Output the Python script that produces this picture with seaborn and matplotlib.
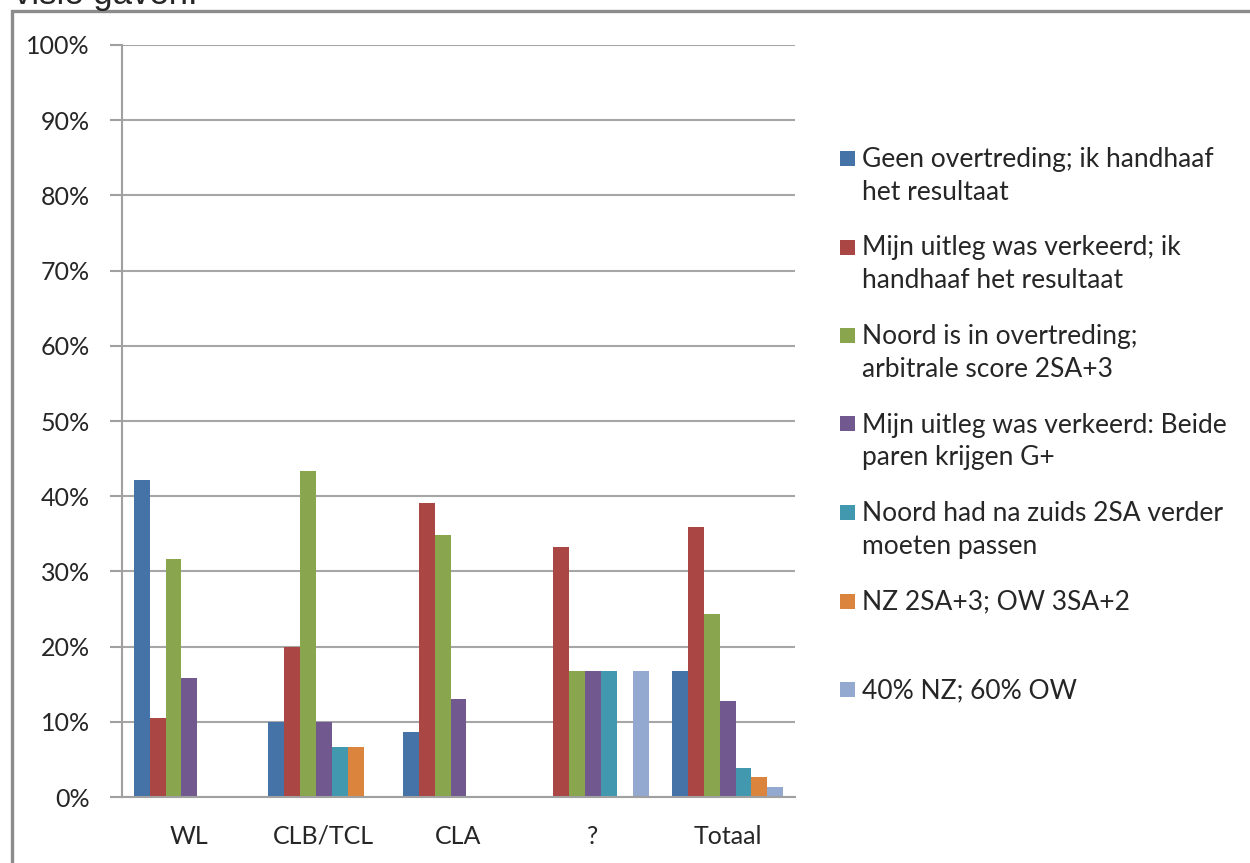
import numpy as np
import pandas as pd
import matplotlib
matplotlib.use("Agg")
import matplotlib.pyplot as plt
import seaborn as sns
from matplotlib.patches import Rectangle
from matplotlib.ticker import FixedLocator, PercentFormatter

categorieen = ["WL", "CLB/TCL", "CLA", "?", "Totaal"]
reeksen = ["Geen overtreding; ik handhaaf\nhet resultaat",
           "Mijn uitleg was verkeerd; ik\nhandhaaf het resultaat",
           "Noord is in overtreding;\narbitrale score 2SA+3",
           "Mijn uitleg was verkeerd: Beide\nparen krijgen G+",
           "Noord had na zuids 2SA verder\nmoeten passen",
           "NZ 2SA+3; OW 3SA+2",
           "40% NZ; 60% OW"]
geen_overtreding = [42.1, 10.0, 8.7, 0.0, 16.7]
uitleg_verkeerd = [10.5, 20.0, 39.1, 33.3, 35.9]
noord_overtreding = [31.6, 43.3, 34.8, 16.7, 24.4]
beide_g_plus = [15.8, 10.0, 13.0, 16.7, 12.8]
verder_passen = [0.0, 6.7, 0.0, 16.7, 3.8]
nz_ow = [0.0, 6.7, 0.0, 0.0, 2.6]
veertig_zestig = [0.0, 0.0, 0.0, 16.7, 1.3]
kleuren = ["#4572A7", "#AA4643", "#89A54E", "#71588F", "#4198AF", "#DB843D", "#93A9CF"]

waarden = [geen_overtreding, uitleg_verkeerd, noord_overtreding, beide_g_plus,
           verder_passen, nz_ow, veertig_zestig]
df = pd.DataFrame([(c, r, v[i]) for r, v in zip(reeksen, waarden)
                   for i, c in enumerate(categorieen)],
                  columns=["categorie", "reeks", "pct"])

sns.set_style("white")
plt.rcParams["font.family"] = ["Lato", "DejaVu Sans"]

fig = plt.figure(figsize=(12.5, 8.63), dpi=100)
ax = fig.add_axes([122 / 1250, 1 - 797 / 863, (795 - 122) / 1250, (797 - 45) / 863])

sns.barplot(data=df, x="categorie", y="pct", hue="reeks", order=categorieen,
            hue_order=reeksen, palette=kleuren, saturation=1, width=0.824, gap=0,
            linewidth=0, legend=False, ax=ax)

ax.set_xlim(-0.5, 4.5)
ax.set_ylim(0, 100)
ax.set_yticks(np.arange(0, 101, 10))
ax.yaxis.set_major_formatter(PercentFormatter(decimals=0))
ax.yaxis.grid(True, color="#A6A6A6", linewidth=1.5)
ax.set_axisbelow(True)
ax.set_xlabel("")
ax.set_ylabel("")
for s in ["top", "right"]:
    ax.spines[s].set_visible(False)
for s in ["left", "bottom"]:
    ax.spines[s].set_color("#A0A0A0")
    ax.spines[s].set_linewidth(1.5)
ax.xaxis.set_minor_locator(FixedLocator(np.arange(-0.5, 5, 1)))
ax.tick_params(axis="x", which="major", length=0, pad=20, labelsize=18)
ax.tick_params(axis="x", which="minor", length=9, width=1.5, color="#A0A0A0", direction="out")
ax.tick_params(axis="y", length=9, width=1.5, color="#A0A0A0", direction="out",
               pad=14, labelsize=18, left=True)

# legende rechts
lx, ly0, stap = 840, 158, 88.5
for i, (lab, kl) in enumerate(zip(reeksen, kleuren)):
    y = ly0 + stap * i
    fig.patches.append(Rectangle((lx / 1250, 1 - (y + 8) / 863), 15 / 1250, 15 / 863,
                                 transform=fig.transFigure, facecolor=kl, edgecolor="none"))
    fig.text(862 / 1250, 1 - (y - 11) / 863, lab, fontsize=19, va="top", ha="left",
             linespacing=1.38)

# rand en afgesneden tekst bovenaan
fig.patches.append(Rectangle((12 / 1250, -0.02), 1.05, 1.02 - 11 / 863,
                             transform=fig.transFigure, fill=False,
                             edgecolor="#8C8C8C", linewidth=2.4))
fig.text(14 / 1250, 1 - 4 / 863, "visie gaven.", fontsize=25, va="baseline",
         family=["Liberation Sans", "DejaVu Sans"])

fig.savefig("out.png", dpi=100)
